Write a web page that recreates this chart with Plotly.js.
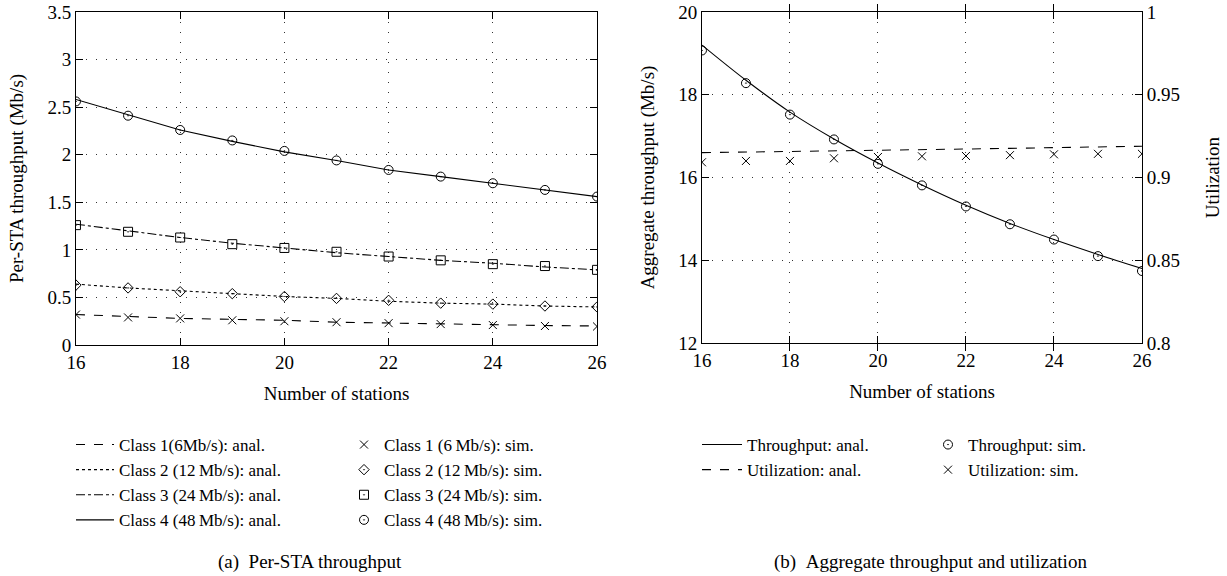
<!DOCTYPE html>
<html><head><meta charset="utf-8">
<script src="https://cdn.plot.ly/plotly-3.0.1.min.js"></script>
<style>html,body{margin:0;padding:0;background:#fff}#chart{width:1227px;height:576px}</style>
</head><body><div id="chart"></div>
<script>
const stations = [16,17,18,19,20,21,22,23,24,25,26];
const c1Anal = [0.32,0.30,0.28,0.27,0.26,0.24,0.23,0.22,0.21,0.205,0.20];
const c1Sim  = [0.32,0.29,0.28,0.26,0.25,0.24,0.23,0.22,0.21,0.20,0.195];
const c2Anal = [0.64,0.60,0.57,0.54,0.51,0.49,0.46,0.44,0.43,0.41,0.40];
const c2Sim  = [0.63,0.60,0.56,0.54,0.51,0.49,0.47,0.44,0.43,0.41,0.40];
const c3Anal = [1.27,1.20,1.13,1.07,1.02,0.97,0.93,0.89,0.86,0.82,0.79];
const c3Sim  = [1.26,1.19,1.13,1.06,1.02,0.98,0.93,0.89,0.85,0.83,0.79];
const c4Anal = [2.58,2.42,2.26,2.14,2.03,1.94,1.84,1.77,1.70,1.63,1.56];
const c4Sim  = [2.56,2.41,2.26,2.15,2.04,1.94,1.84,1.77,1.70,1.63,1.56];
const aggAnal = [19.2,18.35,17.58,16.93,16.35,15.82,15.33,14.89,14.50,14.14,13.8];
const aggSim  = [19.07,18.28,17.52,16.92,16.33,15.81,15.30,14.87,14.50,14.10,13.74];
const utilAnal = [0.915,0.9153,0.9157,0.916,0.9165,0.9168,0.9172,0.9176,0.918,0.9184,0.9189];
const utilSim  = [0.9092,0.91,0.91,0.9116,0.9124,0.9128,0.913,0.9135,0.914,0.9143,0.9143];

const analNames = ['Class 1(6Mb/s): anal.','Class 2 (12\u2009Mb/s): anal.','Class 3 (24\u2009Mb/s): anal.','Class 4 (48\u2009Mb/s): anal.'];
const simNames = ['Class 1 (6\u2009Mb/s): sim.','Class 2 (12\u2009Mb/s): sim.','Class 3 (24\u2009Mb/s): sim.','Class 4 (48\u2009Mb/s): sim.'];
const captions = ['(a)\u2002Per-STA throughput','(b)\u2002Aggregate throughput and utilization'];

const FONT = 'Liberation Serif, DejaVu Serif, serif';
const K = '#000';
const anal = [c1Anal,c2Anal,c3Anal,c4Anal];
const sim = [c1Sim,c2Sim,c3Sim,c4Sim];
const dashes = ['dash','dot','dashdot','solid'];
const syms = ['x-thin-open','diamond-open-dot','square-open-dot','circle-open-dot'];
const sizes = [8,8,9,9];

const traces = [];
for (let i=0;i<4;i++){
  traces.push({x:stations,y:anal[i],name:analNames[i],mode:'lines',xaxis:'x',yaxis:'y',
    line:{color:K,width:1.1,dash:dashes[i]},legend:'legend'});
}
for (let i=0;i<4;i++){
  traces.push({x:stations,y:sim[i],name:simNames[i],mode:'markers',xaxis:'x',yaxis:'y',
    marker:{symbol:syms[i],size:sizes[i],color:K,line:{color:K,width:1}},legend:'legend2'});
}
traces.push({x:stations,y:aggAnal,name:'Throughput: anal.',mode:'lines',xaxis:'x2',yaxis:'y2',
  line:{color:K,width:1.1,shape:'spline'},legend:'legend3'});
traces.push({x:stations,y:utilAnal,name:'Utilization: anal.',mode:'lines',xaxis:'x2',yaxis:'y3',
  line:{color:K,width:1.1,dash:'dash'},legend:'legend3'});
traces.push({x:stations,y:aggSim,name:'Throughput: sim.',mode:'markers',xaxis:'x2',yaxis:'y2',
  marker:{symbol:'circle-open-dot',size:9,color:K,line:{color:K,width:1}},legend:'legend4'});
traces.push({x:stations,y:utilSim,name:'Utilization: sim.',mode:'markers',xaxis:'x2',yaxis:'y3',
  marker:{symbol:'x-thin-open',size:8,color:K,line:{color:K,width:1}},legend:'legend4'});

const axBase = {showline:true,linecolor:K,linewidth:1,mirror:'allticks',ticks:'inside',ticklen:7,tickcolor:K,
  showgrid:true,gridcolor:'#333',griddash:'1px,9px',gridwidth:1,zeroline:false,ticklabeloverflow:'allow',
  tickfont:{family:FONT,size:19,color:K}};
const titleFont = {family:FONT,size:19,color:K};
const legBase = {font:{family:FONT,size:17,color:K},bgcolor:'rgba(0,0,0,0)',borderwidth:0,
  xanchor:'left',yanchor:'top',tracegroupgap:0,itemwidth:30};
const LY = 1-427/576;

const layout = {
  width:1227,height:576,margin:{l:0,r:0,t:0,b:0},paper_bgcolor:'#fff',plot_bgcolor:'#fff',
  font:{family:FONT,color:K},
  xaxis:Object.assign({},axBase,{domain:[0.0619,0.4866],range:[16,26],dtick:2,tick0:16,anchor:'y',
    title:{text:'Number of stations',font:titleFont,standoff:14}}),
  yaxis:Object.assign({},axBase,{domain:[0.401,0.9792],range:[0,3.5],dtick:0.5,anchor:'x',
    title:{text:'Per-STA throughput (Mb/s)',font:titleFont,standoff:18}}),
  xaxis2:Object.assign({},axBase,{domain:[0.5721,0.9307],range:[16,26],dtick:2,tick0:16,anchor:'y2',
    title:{text:'Number of stations',font:titleFont,standoff:14}}),
  yaxis2:Object.assign({},axBase,{domain:[0.4045,0.9792],range:[12,20],dtick:2,anchor:'x2',mirror:false,
    title:{text:'Aggregate throughput (Mb/s)',font:titleFont,standoff:18}}),
  yaxis3:Object.assign({},axBase,{range:[0.8,1],dtick:0.05,overlaying:'y2',side:'right',anchor:'x2',
    showgrid:false,mirror:false,tickformat:'.2~f',
    title:{text:'Utilization',font:titleFont,standoff:26}}),
  showlegend:true,
  legend:Object.assign({},legBase,{x:71/1227,y:LY,itemwidth:38}),
  legend2:Object.assign({},legBase,{x:344/1227,y:LY}),
  legend3:Object.assign({},legBase,{x:697/1227,y:LY,itemwidth:40}),
  legend4:Object.assign({},legBase,{x:928/1227,y:LY}),
  annotations:[
    {text:captions[0],xref:'paper',yref:'paper',x:310/1227,y:1-562/576,xanchor:'center',yanchor:'middle',showarrow:false,font:{family:FONT,size:19,color:K}},
    {text:captions[1],xref:'paper',yref:'paper',x:930/1227,y:1-562/576,xanchor:'center',yanchor:'middle',showarrow:false,font:{family:FONT,size:19,color:K}}
  ]
};
Plotly.newPlot('chart',traces,layout,{displayModeBar:false,staticPlot:true});
</script></body></html>
